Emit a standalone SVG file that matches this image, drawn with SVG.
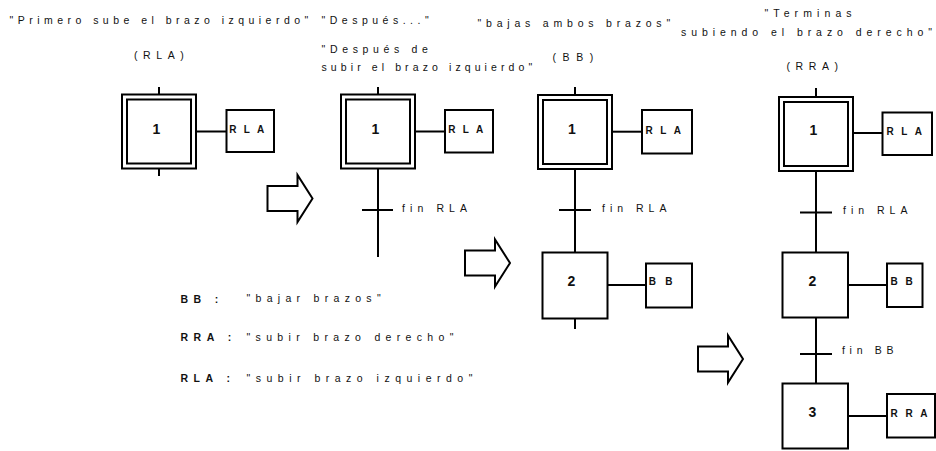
<svg xmlns="http://www.w3.org/2000/svg" xmlns:xlink="http://www.w3.org/1999/xlink" width="936" height="451" viewBox="0 0 936 451">
  <style>
    .box { fill: #fff; stroke: #000; stroke-width: 2; }
    .wire { fill: none; stroke: #000; stroke-width: 2; }
    .big { fill: #fff; stroke: #000; stroke-width: 2; stroke-linejoin: miter; }
    text { font-family: "Liberation Sans", Arial, sans-serif; fill: #111; }
    .note { font-size: 10.5px; }
    .num { font-size: 14px; font-weight: bold; text-anchor: middle; }
    .tag { font-size: 10px; font-weight: bold; }
    .key { font-size: 10.5px; font-weight: bold; }
  </style>
  <defs>
    <!-- hollow block arrow, tip at the origin -->
    <path id="bigArrow" class="big" d="M-45,-12.5 H-15 V-23.5 L0,0 L-15,23.5 V12.5 H-45 Z"/>
  </defs>

  <!-- captions -->
  <g id="captions">
    <text class="note" x="9.5" y="24" letter-spacing="4.47">"Primero sube el brazo izquierdo"</text>
    <text class="note" x="134" y="59" letter-spacing="5.6">(RLA)</text>
    <text class="note" x="321.5" y="24" letter-spacing="4.5">"Después..."</text>
    <text class="note" x="321.5" y="53" letter-spacing="4.66">"Después de</text>
    <text class="note" x="321.5" y="71" letter-spacing="4.1">subir el brazo izquierdo"</text>
    <text class="note" x="477.5" y="27" letter-spacing="4.8">"bajas ambos brazos"</text>
    <text class="note" x="552.5" y="61" letter-spacing="6.6">(BB)</text>
    <text class="note" x="764.5" y="17" letter-spacing="5.1">"Terminas</text>
    <text class="note" x="681" y="36" letter-spacing="4.94">subiendo el brazo derecho<tspan letter-spacing="0">"</tspan></text>
    <text class="note" x="786.5" y="70" letter-spacing="5.6">(RRA)</text>
  </g>

  <!-- legend -->
  <g id="legend">
    <text class="key" x="180.5" y="303" letter-spacing="5.4">BB :</text>
    <text class="note" x="246.5" y="302" letter-spacing="5.3">"bajar brazos"</text>
    <text class="key" x="180.5" y="341" letter-spacing="5.5">RRA :</text>
    <text class="note" x="246.5" y="341" letter-spacing="5.33">"subir brazo derecho"</text>
    <text class="key" x="180.5" y="382" letter-spacing="5.5">RLA :</text>
    <text class="note" x="246.5" y="382" letter-spacing="5.5">"subir brazo izquierdo"</text>
  </g>

  <!-- stage arrows -->
  <g id="stage-arrows">
    <use xlink:href="#bigArrow" href="#bigArrow" x="312.5" y="198.5"/>
    <use xlink:href="#bigArrow" href="#bigArrow" x="510" y="263"/>
    <use xlink:href="#bigArrow" href="#bigArrow" x="743" y="359"/>
  </g>

  <!-- links, stubs and transitions -->
  <g id="connectors" class="wire">
    <!-- sequence 1 -->
    <line x1="159" y1="87" x2="159" y2="94.5"/>
    <line x1="159" y1="168.5" x2="159" y2="176"/>
    <line x1="196" y1="131.5" x2="226.5" y2="131.5"/>
    <!-- sequence 2 -->
    <line x1="378" y1="87" x2="378" y2="94.5"/>
    <line x1="378" y1="168.5" x2="378" y2="257"/>
    <line x1="362" y1="210" x2="393" y2="210"/>
    <line x1="415" y1="131.5" x2="445" y2="131.5"/>
    <!-- sequence 3 -->
    <line x1="575" y1="87" x2="575" y2="95"/>
    <line x1="575" y1="169" x2="575" y2="252.5"/>
    <line x1="559" y1="210" x2="591" y2="210"/>
    <line x1="612" y1="131.7" x2="642" y2="131.7"/>
    <line x1="607.5" y1="285" x2="646" y2="285"/>
    <line x1="575" y1="318.5" x2="575" y2="329"/>
    <!-- sequence 4 -->
    <line x1="816" y1="88" x2="816" y2="97"/>
    <line x1="816" y1="171" x2="816" y2="252.5"/>
    <line x1="800" y1="212.5" x2="832" y2="212.5"/>
    <line x1="853" y1="133" x2="882.5" y2="133"/>
    <line x1="848" y1="285" x2="887" y2="285"/>
    <line x1="816" y1="317.5" x2="816" y2="383.5"/>
    <line x1="800" y1="354" x2="832" y2="354"/>
    <line x1="848" y1="416" x2="887" y2="416"/>
  </g>

  <!-- transition labels -->
  <g id="transition-labels">
    <text class="note" x="402" y="212" letter-spacing="5.1">fin RLA</text>
    <text class="note" x="602" y="212" letter-spacing="5.0">fin RLA</text>
    <text class="note" x="843" y="214" letter-spacing="5.0">fin RLA</text>
    <text class="note" x="842" y="354" letter-spacing="4.7">fin BB</text>
  </g>

  <!-- sequence 1 -->
  <g id="s1-step1">
    <rect class="box" x="122" y="94.5" width="74" height="74"/>
    <rect class="box" x="127" y="99.5" width="64" height="64"/>
    <text class="num" x="156.3" y="133.5">1</text>
  </g>
  <g id="s1-action-rla">
    <rect class="box" x="226.5" y="110" width="47.5" height="42"/>
    <text class="tag" x="229.3" y="133" letter-spacing="7.2">RLA</text>
  </g>

  <!-- sequence 2 -->
  <g id="s2-step1">
    <rect class="box" x="341" y="94.5" width="74" height="74"/>
    <rect class="box" x="346" y="99.5" width="64" height="64"/>
    <text class="num" x="375.3" y="133.5">1</text>
  </g>
  <g id="s2-action-rla">
    <rect class="box" x="445" y="110" width="48" height="42.5"/>
    <text class="tag" x="448.3" y="133" letter-spacing="7.2">RLA</text>
  </g>

  <!-- sequence 3 -->
  <g id="s3-step1">
    <rect class="box" x="538" y="95" width="74" height="74"/>
    <rect class="box" x="543" y="100" width="64" height="64"/>
    <text class="num" x="571.8" y="134">1</text>
  </g>
  <g id="s3-action-rla">
    <rect class="box" x="642" y="110" width="50" height="43.5"/>
    <text class="tag" x="645.5" y="133.5" letter-spacing="7.5">RLA</text>
  </g>
  <g id="s3-step2">
    <rect class="box" x="542.5" y="252.5" width="65" height="66"/>
    <text class="num" x="571.5" y="286">2</text>
  </g>
  <g id="s3-action-bb">
    <rect class="box" x="646" y="263.5" width="46" height="44"/>
    <text class="tag" x="648.8" y="285" letter-spacing="9.2">BB</text>
  </g>

  <!-- sequence 4 -->
  <g id="s4-step1">
    <rect class="box" x="779" y="97" width="74" height="74"/>
    <rect class="box" x="784" y="102" width="64" height="64"/>
    <text class="num" x="813.3" y="135">1</text>
  </g>
  <g id="s4-action-rla">
    <rect class="box" x="882.5" y="112.5" width="49.5" height="42.5"/>
    <text class="tag" x="886.5" y="135" letter-spacing="7.5">RLA</text>
  </g>
  <g id="s4-step2">
    <rect class="box" x="782.5" y="252.5" width="65.5" height="65"/>
    <text class="num" x="812.5" y="286">2</text>
  </g>
  <g id="s4-action-bb">
    <rect class="box" x="887" y="263.5" width="35.5" height="43.5"/>
    <text class="tag" x="890.5" y="285" letter-spacing="7.8">BB</text>
  </g>
  <g id="s4-step3">
    <rect class="box" x="782.5" y="383.5" width="65.5" height="65"/>
    <text class="num" x="812.5" y="417">3</text>
  </g>
  <g id="s4-action-rra">
    <rect class="box" x="887" y="394" width="48" height="43.5"/>
    <text class="tag" x="890.5" y="417" letter-spacing="7.7">RRA</text>
  </g>
</svg>
